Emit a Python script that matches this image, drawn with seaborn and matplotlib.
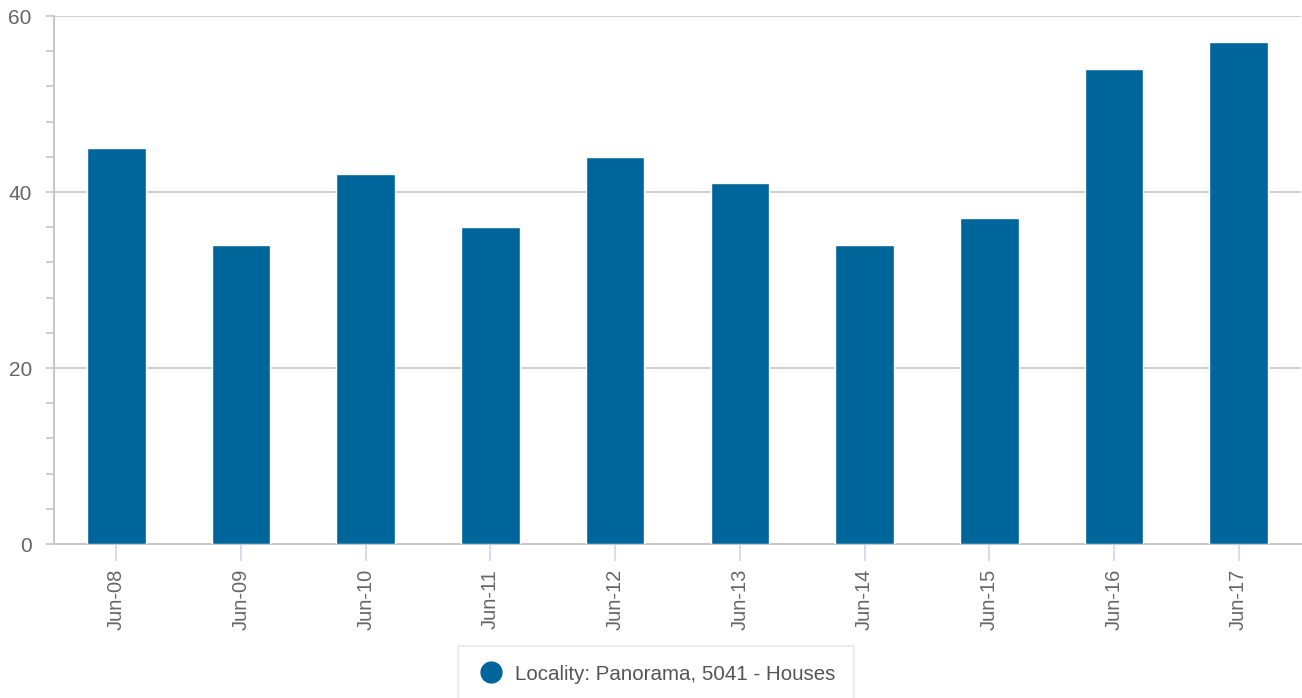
import matplotlib
matplotlib.use("Agg")
import matplotlib.pyplot as plt
import seaborn as sns
import pandas as pd
from matplotlib.lines import Line2D
from matplotlib.ticker import MultipleLocator

# data
periods = ["Jun-08", "Jun-09", "Jun-10", "Jun-11", "Jun-12",
           "Jun-13", "Jun-14", "Jun-15", "Jun-16", "Jun-17"]
sales = [45, 34, 42, 36, 44, 41, 34, 37, 54, 57]
series_name = "Locality: Panorama, 5041 - Houses"

BAR = "#00659b"
GRID = "#c6c6c6"
TEXT = "#666666"

sns.set_style("white")
plt.rcParams["font.family"] = ["Liberation Sans", "DejaVu Sans"]

df = pd.DataFrame({"period": periods, "sales": sales})

fig = plt.figure(figsize=(13.02, 6.98), dpi=100)
ax = fig.add_axes([54 / 1302, 1 - 544 / 698, 1247 / 1302, 528 / 698])

sns.barplot(data=df, x="period", y="sales", color=BAR, width=0.47,
            saturation=1, ax=ax, zorder=3)

ax.set_xlim(-0.5, 9.5)
ax.set_ylim(0, 60)
ax.yaxis.set_major_locator(MultipleLocator(20))
ax.yaxis.set_minor_locator(MultipleLocator(4))
ax.grid(axis="y", which="major", color=GRID, linewidth=1.2, zorder=0)

for side in ["top", "right"]:
    ax.spines[side].set_visible(False)
for side in ["left", "bottom"]:
    ax.spines[side].set_color(GRID)
    ax.spines[side].set_linewidth(1.4)

ax.tick_params(axis="y", which="both", direction="out", left=True,
               color=GRID, width=1.2, labelsize=15, labelcolor=TEXT)
ax.tick_params(axis="y", which="major", length=6, pad=10)
ax.tick_params(axis="y", which="minor", length=6)
ax.tick_params(axis="x", direction="out", bottom=True, length=12,
               color="#ccd6eb", width=1.2, labelsize=14.5,
               labelcolor=TEXT, labelrotation=90, pad=6)
ax.set_xlabel("")
ax.set_ylabel("")

handle = Line2D([], [], marker="o", linestyle="none", markersize=15,
                markerfacecolor=BAR, markeredgecolor=BAR)
leg = fig.legend([handle], [series_name], loc="upper center",
                 bbox_to_anchor=(656 / 1302, 1 - 646 / 698),
                 frameon=True, fancybox=False, fontsize=14.8,
                 handletextpad=0.5, borderpad=0.9, handlelength=1.4,
                 borderaxespad=0)
leg.get_frame().set_edgecolor("#e2e2e2")
leg.get_frame().set_linewidth(1.2)
for t in leg.get_texts():
    t.set_color("#555555")

fig.savefig("out.png", dpi=100)
